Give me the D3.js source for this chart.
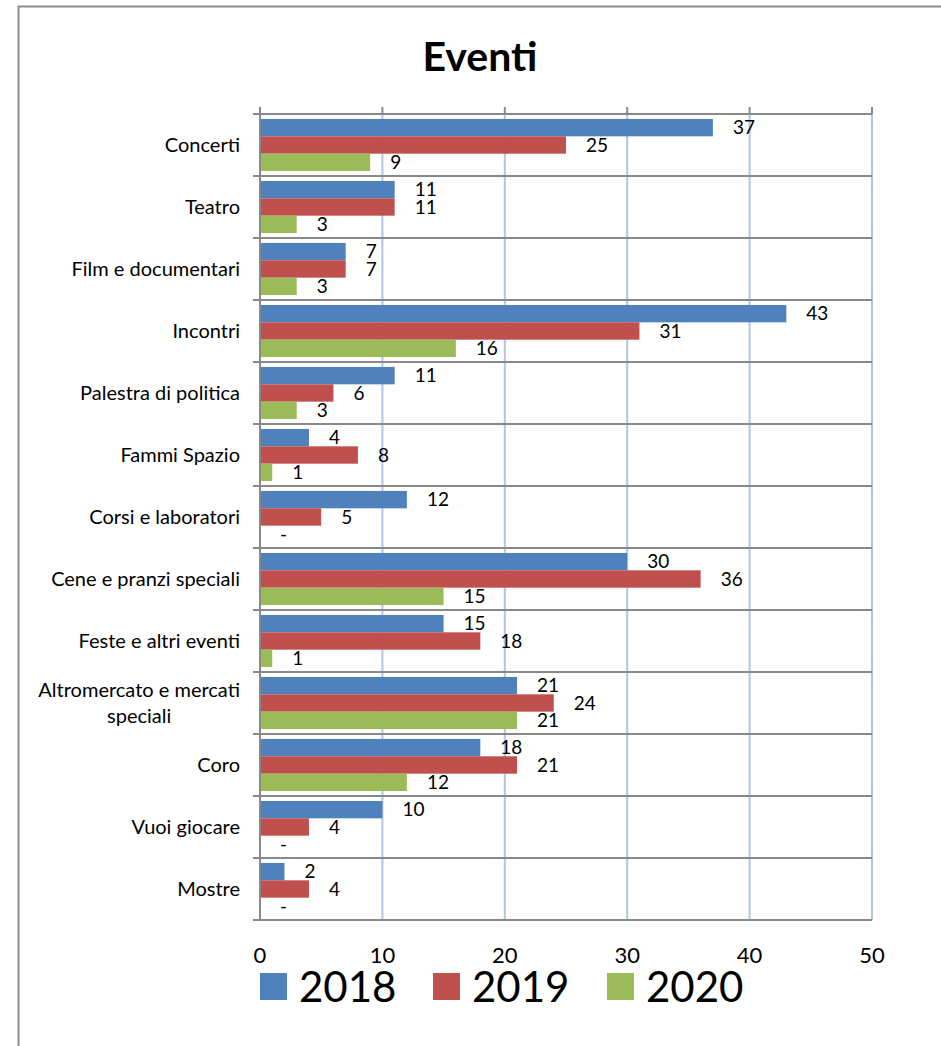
<!DOCTYPE html>
<html>
<head>
<meta charset="utf-8">
<script src="https://cdn.jsdelivr.net/npm/d3@7"></script>
<style>
  body { margin: 0; background: #fff; }
  svg { display: block; font-family: Lato, "Open Sans", sans-serif; }
</style>
</head>
<body>
<svg id="chart"></svg>
<script>
// data
const categories = [
  "Concerti", "Teatro", "Film e documentari", "Incontri", "Palestra di politica",
  "Fammi Spazio", "Corsi e laboratori", "Cene e pranzi speciali", "Feste e altri eventi",
  "Altromercato e mercati speciali", "Coro", "Vuoi giocare", "Mostre"
];
const years = ["2018", "2019", "2020"];
const values2018 = [37, 11, 7, 43, 11, 4, 12, 30, 15, 21, 18, 10, 2];
const values2019 = [25, 11, 7, 31, 6, 8, 5, 36, 18, 24, 21, 4, 4];
const values2020 = [9, 3, 3, 16, 3, 1, 0, 15, 1, 21, 12, 0, 0];
const xTicks = [0, 10, 20, 30, 40, 50];

const series = [values2018, values2019, values2020];
const dataset = categories.map((c, i) => ({
  cat: c,
  vals: years.map((y, j) => ({ year: y, value: series[j][i] }))
}));

// dimensions
const width = 941;
const height = 1046;
const plotLeft = 260, plotRight = 872, plotTop = 114, plotBottom = 920;

const color = d3.scaleOrdinal().domain(years).range(["#4f81bd", "#c0504d", "#9bbb59"]);

const svg = d3.select("#chart")
  .attr("width", width)
  .attr("height", height);

// outer frame
svg.append("rect")
  .attr("x", 18.5).attr("y", 6.5)
  .attr("width", width + 10).attr("height", height + 10)
  .attr("fill", "none").attr("stroke", "#8c8c8c").attr("stroke-width", 2);

// title
svg.append("text")
  .attr("x", 480).attr("y", 71)
  .attr("text-anchor", "middle")
  .style("font-size", "41px").style("font-weight", "bold")
  .text("Eventi");

// scales
const xScale = d3.scaleLinear().domain([0, 50]).range([plotLeft, plotRight]);
const yScale = d3.scaleBand().domain(categories).range([plotTop, plotBottom])
  .paddingInner(0.16).paddingOuter(0.08);
const ySub = d3.scaleBand().domain(years).range([0, yScale.bandwidth()]);
const step = yScale.step();

// vertical gridlines
svg.append("g")
  .selectAll("line")
  .data(xTicks.slice(1))
  .join("line")
  .attr("x1", d => xScale(d)).attr("x2", d => xScale(d))
  .attr("y1", plotTop).attr("y2", plotBottom)
  .attr("stroke", "#b0c6e4").attr("stroke-width", 2);

// horizontal category separators (with left ticks)
svg.append("g")
  .selectAll("line")
  .data(d3.range(categories.length + 1))
  .join("line")
  .attr("x1", plotLeft - 7).attr("x2", plotRight)
  .attr("y1", i => plotTop + i * step).attr("y2", i => plotTop + i * step)
  .attr("stroke", "#898989").attr("stroke-width", 2);

// top ticks
svg.append("g")
  .selectAll("line")
  .data(xTicks)
  .join("line")
  .attr("x1", d => xScale(d)).attr("x2", d => xScale(d))
  .attr("y1", plotTop - 7).attr("y2", plotTop)
  .attr("stroke", "#898989").attr("stroke-width", 2);

// bars
const groups = svg.append("g")
  .selectAll("g")
  .data(dataset)
  .join("g")
  .attr("transform", d => `translate(0, ${yScale(d.cat)})`);

groups.selectAll("rect")
  .data(d => d.vals)
  .join("rect")
  .attr("x", xScale(0))
  .attr("y", d => ySub(d.year))
  .attr("width", d => xScale(d.value) - xScale(0))
  .attr("height", ySub.bandwidth())
  .attr("fill", d => color(d.year));

groups.selectAll("text")
  .data(d => d.vals)
  .join("text")
  .attr("x", d => xScale(d.value) + 20)
  .attr("y", d => ySub(d.year) + ySub.bandwidth() / 2)
  .attr("dy", "0.35em")
  .style("font-size", "19px")
  .text(d => d.value === 0 ? "-" : d.value);

// left axis line
svg.append("line")
  .attr("x1", plotLeft).attr("x2", plotLeft)
  .attr("y1", plotTop - 7).attr("y2", plotBottom)
  .attr("stroke", "#898989").attr("stroke-width", 2);

// category labels
svg.append("g")
  .selectAll("text")
  .data(categories)
  .join("text")
  .style("font-size", "20px")
  .attr("y", d => yScale(d) + yScale.bandwidth() / 2)
  .each(function (d) {
    const t = d3.select(this);
    const lines = d === "Altromercato e mercati speciali" ? ["Altromercato e mercati", "speciali"] : [d];
    lines.forEach((ln, i) => {
      t.append("tspan")
        .attr("dy", i === 0 ? `${0.35 - (lines.length - 1) * 0.65}em` : "1.3em")
        .text(ln);
    });
    if (lines.length === 1) {
      t.attr("text-anchor", "end");
      t.selectAll("tspan").attr("x", 240);
    } else {
      let w = 0;
      t.selectAll("tspan").each(function () { w = Math.max(w, this.getComputedTextLength()); });
      t.attr("text-anchor", "middle");
      t.selectAll("tspan").attr("x", 240 - w / 2);
    }
  });

// x tick labels
svg.append("g")
  .selectAll("text")
  .data(xTicks)
  .join("text")
  .attr("x", d => xScale(d))
  .attr("y", 963)
  .attr("text-anchor", "middle")
  .style("font-size", "22px")
  .text(d => d);

// legend
const legendX = [260, 433, 607];
const legend = svg.append("g")
  .selectAll("g")
  .data(years)
  .join("g")
  .attr("transform", (d, i) => `translate(${legendX[i]}, 973)`);

legend.append("rect")
  .attr("width", 27).attr("height", 27)
  .attr("fill", d => color(d));

legend.append("text")
  .attr("x", 39).attr("y", 29)
  .style("font-size", "42px")
  .text(d => d);
</script>
</body>
</html>
